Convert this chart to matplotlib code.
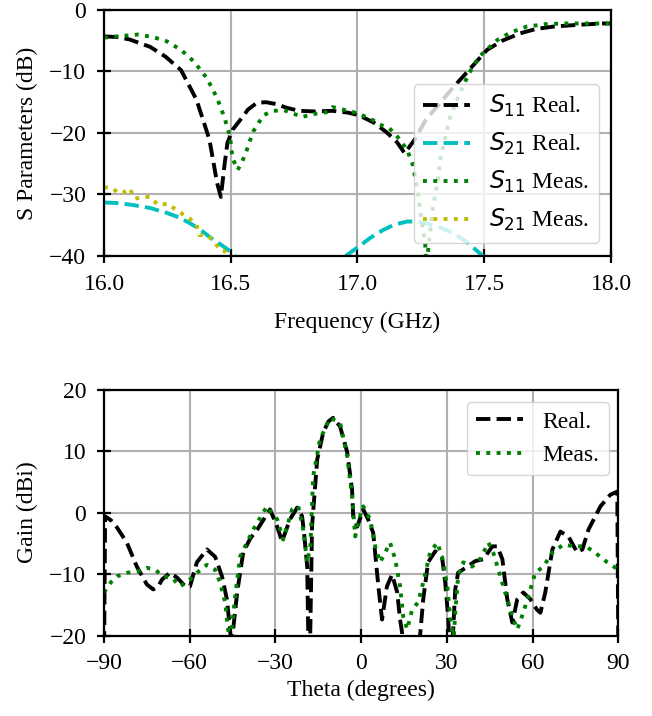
import matplotlib
matplotlib.use("Agg")
import matplotlib.pyplot as plt

# top panel: S parameters vs frequency
s11_real_f = [16.00, 16.051, 16.101, 16.182, 16.243, 16.304, 16.365, 16.416, 16.446, 16.461, 16.476, 16.487,
              16.507, 16.537, 16.568, 16.603, 16.639, 16.679, 16.72, 16.77, 16.831, 16.902, 16.963, 17.004,
              17.064, 17.115, 17.156, 17.186, 17.227, 17.267, 17.318, 17.369, 17.44, 17.511, 17.571, 17.642,
              17.703, 17.774, 17.876, 17.967, 18.00]
s11_real_db = [-4.3, -4.4, -4.8, -6.0, -7.6, -9.8, -14.6, -21.1, -28.1, -30.4, -25.0, -21.6,
               -19.5, -17.9, -16.2, -15.1, -15.0, -15.3, -15.9, -16.4, -16.5, -16.4, -16.7, -17.1,
               -18.3, -19.9, -21.5, -23.3, -21.0, -18.0, -15.5, -13.0, -9.75, -6.5, -5.0, -3.8,
               -3.1, -2.7, -2.4, -2.2, -2.2]

s21_real_f = [16.00, 16.051, 16.112, 16.182, 16.248, 16.294, 16.34, 16.38, 16.416, 16.466, 16.507, 16.527,
              16.608, 16.73, 16.862, 16.953, 17.014, 17.049, 17.1, 17.146, 17.196, 17.237, 17.272, 17.328,
              17.379, 17.43, 17.481, 17.521, 17.622]
s21_real_db = [-31.3, -31.4, -31.7, -32.2, -33.0, -33.7, -34.7, -35.7, -36.9, -38.3, -39.5, -40.5,
               -45.0, -52.0, -45.0, -40.0, -38.2, -37.1, -35.8, -34.9, -34.4, -34.4, -34.7, -35.4,
               -36.3, -37.7, -39.5, -41.0, -46.0]

s11_meas_f = [16.00, 16.051, 16.132, 16.193, 16.248, 16.304, 16.355, 16.406, 16.446, 16.476, 16.497, 16.507,
              16.527, 16.542, 16.563, 16.588, 16.629, 16.669, 16.71, 16.75, 16.781, 16.831, 16.882, 16.902,
              16.943, 16.983, 17.049, 17.085, 17.125, 17.166, 17.196, 17.217, 17.237, 17.247, 17.257, 17.267,
              17.272, 17.28, 17.298, 17.318, 17.328, 17.349, 17.364, 17.404, 17.44, 17.48, 17.551, 17.602,
              17.668, 17.744, 17.815, 17.906, 18.00]
s11_meas_db = [-4.5, -4.3, -4.0, -4.4, -5.1, -6.5, -8.4, -11.1, -14.3, -17.6, -20.6, -24.1,
               -26.0, -25.0, -22.8, -19.8, -17.1, -16.4, -16.3, -16.9, -17.4, -16.9, -16.6, -15.8,
               -16.2, -16.6, -17.6, -18.6, -19.2, -21.0, -22.8, -25.0, -29.2, -32.5, -35.2, -38.0,
               -42.0, -38.5, -32.0, -27.6, -23.9, -20.3, -17.6, -13.5, -10.3, -7.6, -4.9, -3.7,
               -2.7, -2.3, -2.2, -2.2, -2.2]

s21_meas_f = [16.00, 16.035, 16.056, 16.076, 16.101, 16.122, 16.152, 16.182, 16.213, 16.253, 16.284, 16.314,
              16.335, 16.365, 16.375, 16.406, 16.436, 16.456, 16.476, 16.497, 16.527]
s21_meas_db = [-28.8, -29.0, -29.8, -29.7, -29.0, -30.7, -30.4, -30.4, -31.7, -31.5, -32.5, -33.3,
               -33.8, -34.9, -36.6, -36.6, -37.7, -39.0, -39.2, -40.5, -43.0]

# bottom panel: gain pattern
real_theta = [-90, -89.6, -87.5, -85.5, -82, -78.5, -75, -72.8, -71, -69.7, -66.9, -64.4, -61.6, -59.9, -57.5,
              -54, -51.1, -48.7, -47, -45.9, -45.3, -44.8, -43.4, -41.3, -38.8, -36.4, -31.9, -29.4, -27.7,
              -24.9, -22.4, -20.7, -20, -18.9, -18.2, -17.2, -15.4, -13.3, -11.5, -9.8, -7.4, -4.9, -3.2, -2.8,
              -1.4, 0.7, 2.4, 4.2, 6, 7.3, 9, 10.8, 12.6, 13.6, 14.3, 15, 19.5, 20.6, 21.7, 23.4, 25.9, 28.3,
              29.4, 30.4, 31.2, 32.2, 32.9, 33.9, 37.1, 39.9, 42.7, 45.9, 47.6, 49.4, 51.1, 52.9, 54.6, 56.7,
              59.2, 61.5, 62.7, 64.4, 66.9, 69.7, 72.5, 75.6, 77.4, 79.5, 83.7, 87.2, 89.6, 90]
real_gain = [-25, -0.6, -1.3, -2.4, -4.9, -8.8, -11.7, -12.5, -12.0, -10.9, -9.8, -10.6, -12.0, -12.0, -8.1,
             -6.0, -7.2, -10.4, -14.1, -19.0, -22, -19.0, -13, -6.5, -4.2, -2.8, 0.5, -2.3, -4.7,
             -1.1, 0.8, -0.6, -3.3, -8.8, -30, -2.2, 8.6, 13.0, 14.8, 15.4, 14.0, 9.8, 3.7, -0.6,
             -2.3, 0.5, -1.1, -3.3, -12, -17.4, -12, -10.1, -13, -17.4, -19.5, -25, -25, -20, -14.1, -8.1, -6.3, -7.3,
             -11.4, -16.9, -24, -19, -12.5, -9.8, -8.8, -7.9, -7.6, -5.5, -5.5, -7.6, -14.1, -17.9, -14.1, -13,
             -14.1, -15.8, -16.3, -13, -6.0, -3.1, -3.9, -6.5, -6.0, -2.8, 1.0, 2.9, 3.4, -25]

meas_theta = [-90, -87.5, -85.5, -82, -78.5, -75, -72.1, -69.3, -66.2, -63.4, -60.6, -57.5, -54, -51.1, -49.4,
              -47.6, -46.6, -45.9, -45.2, -44.1, -42.4, -37.8, -33, -29.4, -27.3, -24.2, -22, -20.3, -18.9,
              -17.8, -16.8, -14.4, -10.9, -7.4, -4.9, -3.2, -2.1, -1.1, 0.7, 3.1, 4.9, 6.6, 8.4, 10.1, 11.9,
              13.6, 14.7, 16.1, 17.8, 19.9, 21.7, 24.1, 26.6, 28.3, 30.1, 31.1, 31.8, 32.3, 32.9, 33.9, 35.7,
              38.8, 41.6, 44.5, 46.2, 48.7, 51.1, 52.9, 54.6, 56.7, 59.2, 60.9, 63.7, 66.9, 70.8, 74.3, 78.5,
              81.2, 86.1, 90]
meas_gain = [-13, -11.3, -10.4, -9.8, -9.6, -9.0, -9.3, -10.4, -10.6, -12, -11.2, -9.8, -8.5, -9.3, -11.4,
             -14.6, -19, -20.5, -18.5, -13.7, -7.2, -2.8, 1.0, -1.1, -4.4, 0.5, 1.0, -2.8, -8.1,
             -5.5, 5.9, 11.9, 15.4, 14.6, 9.1, 2.6, -3.9, -1.6, 1.0, -1.1, -5.5, -8.1, -6.5, -4.9, -7.6,
             -12, -16.9, -19, -15.8, -14.6, -11.4, -6.5, -4.9, -7.2, -12, -16.9, -19, -21, -16.3, -10.4, -8.1,
             -8.8, -7.6, -4.9, -6.5, -10.4, -14.1, -16.9, -19, -16.3, -12.5, -9.8, -8.8, -6.5, -5.2, -5.5, -5.5,
             -6.3, -8.1, -9.3]

freq_ticks = [16.0, 16.5, 17.0, 17.5, 18.0]
sp_ticks = [0, -10, -20, -30, -40]
theta_ticks = [-90, -60, -30, 0, 30, 60, 90]
gain_ticks = [20, 10, 0, -10, -20]

plt.rcParams.update({
    "font.family": ["Liberation Serif", "DejaVu Serif"],
    "mathtext.fontset": "dejavusans",
    "font.size": 17,
    "axes.linewidth": 1.6,
    "axes.labelpad": 8,
    "xtick.direction": "inout", "ytick.direction": "inout",
    "xtick.major.size": 9.5, "ytick.major.size": 9.5,
    "xtick.major.width": 1.6, "ytick.major.width": 1.6,
    "xtick.major.pad": 8, "ytick.major.pad": 8,
    "grid.linewidth": 1.5,
})
lw = 2.8

fig = plt.figure(figsize=(6.52, 7.16), dpi=100)
ax1 = fig.add_axes([0.1595, 0.6425, 0.7776, 0.3436])
ax1.plot(s11_real_f, s11_real_db, "k--", lw=lw, label="$S_{11}$ Real.")
ax1.plot(s21_real_f, s21_real_db, "c--", lw=lw, label="$S_{21}$ Real.")
ax1.plot(s11_meas_f, s11_meas_db, "g:", lw=lw, label="$S_{11}$ Meas.")
ax1.plot(s21_meas_f, s21_meas_db, "y:", lw=lw, label="$S_{21}$ Meas.")
ax1.set_xlim(16, 18); ax1.set_ylim(-40, 0)
ax1.set_xticks(freq_ticks); ax1.set_yticks(sp_ticks)
ax1.set_xlabel("Frequency (GHz)", labelpad=12); ax1.set_ylabel("S Parameters (dB)")
ax1.grid(True)
ax1.legend(loc="lower right", bbox_to_anchor=(0.976, 0.053), borderaxespad=0)

ax2 = fig.add_axes([0.1595, 0.1124, 0.789, 0.3436])
ax2.plot(real_theta, real_gain, "k--", lw=lw, label="Real.")
ax2.plot(meas_theta, meas_gain, "g:", lw=lw, label="Meas.")
ax2.set_xlim(-90, 90); ax2.set_ylim(-20, 20)
ax2.set_xticks(theta_ticks); ax2.set_yticks(gain_ticks)
ax2.set_xlabel("Theta (degrees)", labelpad=4); ax2.set_ylabel("Gain (dBi)")
ax2.grid(True)
ax2.legend(loc="upper right", bbox_to_anchor=(0.981, 0.951), borderaxespad=0)

fig.savefig("out.png", dpi=100)
